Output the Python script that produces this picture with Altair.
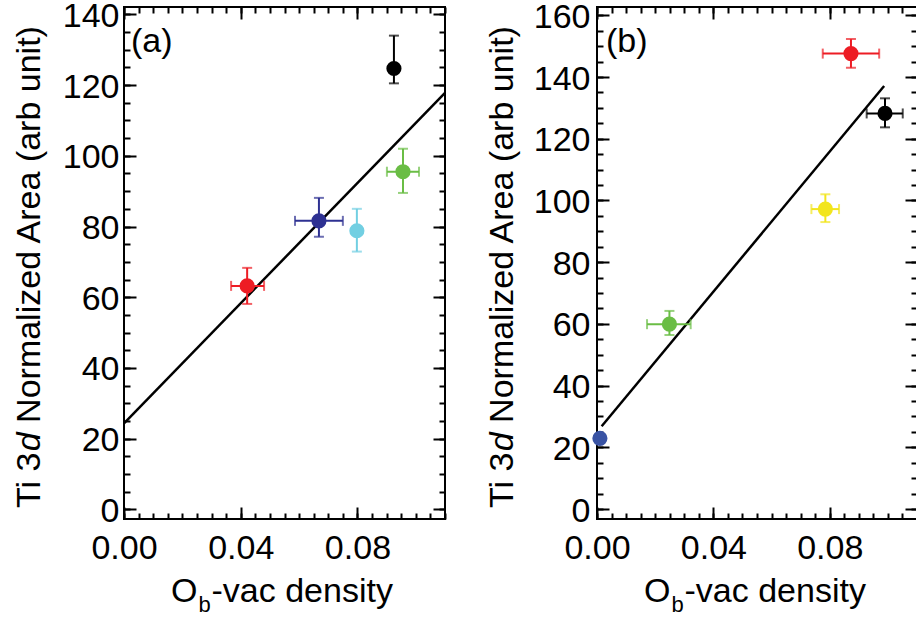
import altair as alt
import pandas as pd

FONT = "Liberation Sans"

# ---------------- Panel (a) ----------------
a_x = [0.0422, 0.0668, 0.0798, 0.0956, 0.0925]
a_y = [63.2, 81.6, 78.8, 95.5, 124.7]
a_xlo = [0.0367, 0.0586, 0.0798, 0.0901, 0.0925]
a_xhi = [0.0480, 0.0750, 0.0798, 0.1011, 0.0925]
a_ylo = [58.1, 77.1, 72.9, 89.5, 120.5]
a_yhi = [68.3, 88.1, 85.0, 102.0, 134.0]
a_colors = ["#ED1C24", "#2E3192", "#72CFE2", "#6ABD45", "#000000"]
a_fit_x = [0.0, 0.11]
a_fit_y = [24.3, 117.8]
a_ydomain = [-2.75, 142.1]
a_ymajor = [0, 20, 40, 60, 80, 100, 120, 140]

# ---------------- Panel (b) ----------------
b_x = [0.0010, 0.0249, 0.0785, 0.0873, 0.0990]
b_y = [22.9, 59.9, 97.2, 147.6, 128.2]
b_xlo = [0.0010, 0.0172, 0.0737, 0.0776, 0.0927]
b_xhi = [0.0010, 0.0322, 0.0832, 0.0970, 0.1051]
b_ylo = [22.9, 56.4, 93.0, 143.0, 123.7]
b_yhi = [22.9, 64.2, 102.0, 152.3, 133.1]
b_colors = ["#3953A4", "#6ABD45", "#F2E51D", "#ED1C24", "#000000"]
b_fit_x = [0.0016, 0.0987]
b_fit_y = [26.8, 137.1]
b_ydomain = [-3.24, 162.7]
b_ymajor = [0, 20, 40, 60, 80, 100, 120, 140, 160]

x_domain = [0.0, 0.11]
x_major = [0.0, 0.04, 0.08]
x_minor = [round(0.005 * i, 3) for i in range(23)]


def lab_axis(orient, values, fmt, pad, baseline=None, offset=None):
    kw = dict(orient=orient, values=values, format=fmt, ticks=False, tickSize=0,
              domain=False, grid=False, labelFontSize=34, labelFont=FONT,
              labelColor="black", labelPadding=pad, title=None,
              labelFlush=False, labelOverlap=False)
    if baseline:
        kw["labelBaseline"] = baseline
    if offset is not None:
        kw["labelOffset"] = offset
    return alt.Axis(**kw)


def tick_axis(orient, values, size):
    return alt.Axis(orient=orient, values=values, labels=False, domain=False,
                    grid=False, ticks=True, tickSize=size, tickWidth=2,
                    tickColor="black", offset=-size, title=None)


def panel(px, py, xlo, xhi, ylo, yhi, colors, fx, fy, ydomain, ymajor,
          letter, ylabpad, W, letter_x):
    H = 512
    yminor = [v for v in range(0, int(ydomain[1]) + 1, 5)]
    pts = pd.DataFrame(dict(x=px, y=py, xlo=xlo, xhi=xhi, ylo=ylo, yhi=yhi, c=colors))
    ypts = pts[pts.ylo < pts.yhi]
    xpts = pts[pts.xlo < pts.xhi]
    ycaps = pd.concat([ypts.assign(v=ypts.ylo), ypts.assign(v=ypts.yhi)])
    xcaps = pd.concat([xpts.assign(v=xpts.xlo), xpts.assign(v=xpts.xhi)])
    fit = pd.DataFrame(dict(x=fx, y=fy))

    xs = alt.Scale(domain=x_domain, nice=False, zero=False)
    ys = alt.Scale(domain=ydomain, nice=False, zero=False)
    col = alt.Color("c:N", scale=None, legend=None)

    fit_l = alt.Chart(fit).mark_line(color="black", strokeWidth=2.5).encode(
        x=alt.X("x:Q", scale=xs, axis=lab_axis("bottom", x_major, ".2f", 39, "alphabetic")),
        y=alt.Y("y:Q", scale=ys, axis=lab_axis("left", ymajor, "d", ylabpad, offset=2)),
    )
    yerr = alt.Chart(ypts).mark_rule(strokeWidth=2).encode(
        x=alt.X("x:Q", scale=xs, axis=tick_axis("bottom", x_major, 12)),
        y=alt.Y("ylo:Q", scale=ys, axis=tick_axis("left", ymajor, 12)),
        y2="yhi:Q", color=col,
    )
    xerr = alt.Chart(xpts).mark_rule(strokeWidth=2).encode(
        x=alt.X("xlo:Q", scale=xs, axis=tick_axis("top", x_major, 12)),
        x2="xhi:Q",
        y=alt.Y("y:Q", scale=ys, axis=tick_axis("right", ymajor, 12)),
        color=col,
    )
    ycap = alt.Chart(ycaps).mark_tick(orient="horizontal", size=10, thickness=2).encode(
        x=alt.X("x:Q", scale=xs, axis=tick_axis("bottom", x_minor, 6)),
        y=alt.Y("v:Q", scale=ys, axis=tick_axis("left", yminor, 6)),
        color=col,
    )
    xcap = alt.Chart(xcaps).mark_tick(orient="vertical", size=10, thickness=2).encode(
        x=alt.X("v:Q", scale=xs, axis=tick_axis("top", x_minor, 6)),
        y=alt.Y("y:Q", scale=ys, axis=tick_axis("right", yminor, 6)),
        color=col,
    )
    dots = alt.Chart(pts).mark_circle(size=230, opacity=1).encode(
        x=alt.X("x:Q", scale=xs, axis=None),
        y=alt.Y("y:Q", scale=ys, axis=None),
        color=col,
    )

    def txt(s, x, y, size=34, angle=None, style="normal"):
        kw = dict(align="left", baseline="alphabetic", fontSize=size, font=FONT,
                  color="black", fontStyle=style)
        if angle is not None:
            kw["angle"] = angle
        return alt.Chart(pd.DataFrame({"t": [s]})).mark_text(**kw).encode(
            x=alt.value(x), y=alt.value(y), text="t:N")

    texts = [
        txt("Ti 3", -84, 501, angle=270),
        txt("d", -84, 444.3, angle=270, style="italic"),
        txt("Normalized Area (arb unit)", -84, 415.9, angle=270),
        txt("O", 47, 595),
        txt("b", 74.5, 605, size=22),
        txt("-vac density", 87.5, 595),
        txt(letter, letter_x, 44.7),
    ]

    return alt.layer(fit_l, yerr, xerr, ycap, xcap, dots, *texts).resolve_axis(
        x="independent", y="independent"
    ).properties(width=W, height=H)


pa = panel(a_x, a_y, a_xlo, a_xhi, a_ylo, a_yhi, a_colors, a_fit_x, a_fit_y,
           a_ydomain, a_ymajor, "(a)", 5, 321, 7)
pb = panel(b_x, b_y, b_xlo, b_xhi, b_ylo, b_yhi, b_colors, b_fit_x, b_fit_y,
           b_ydomain, b_ymajor, "(b)", 7, 320, 9)

chart = alt.hconcat(pa, pb, spacing=152, bounds="flush").properties(
    padding={"left": 124, "top": 7, "right": 792, "bottom": 612},
    autosize=alt.AutoSizeParams(type="none"),
    background="white",
).configure_view(stroke="black", strokeWidth=2).configure_axis(grid=False)

chart.save("out.html", embed_options={"renderer": "svg", "actions": False})
